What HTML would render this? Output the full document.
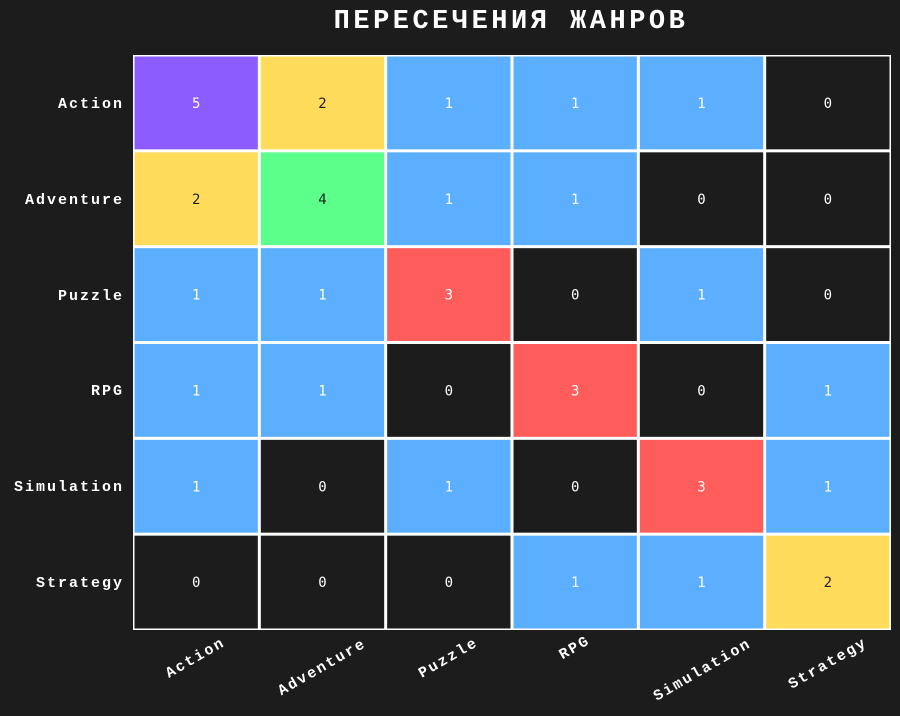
<!DOCTYPE html>
<html><head><meta charset="utf-8"><style>
html,body{margin:0;padding:0;background:#1c1c1c;}
svg{display:block;}
</style></head><body>
<svg width="900" height="716" viewBox="0 0 900 716" xmlns="http://www.w3.org/2000/svg">
<rect width="900" height="716" fill="#1c1c1c"/>
<text x="511" y="28" fill="#fff" font-family="Liberation Mono, DejaVu Sans Mono, monospace" font-weight="bold" font-size="27" text-anchor="middle" letter-spacing="3.5">ПЕРЕСЕЧЕНИЯ ЖАНРОВ</text>
<rect x="133" y="55" width="758" height="575" fill="#ffffff"/>
<g id="cells"></g>
<g font-family="Liberation Mono, DejaVu Sans Mono, monospace" font-weight="bold" font-size="15" fill="#fff" text-anchor="end" letter-spacing="2">
<text x="124" y="108">Action</text>
<text x="124" y="204">Adventure</text>
<text x="124" y="300">Puzzle</text>
<text x="124" y="395">RPG</text>
<text x="124" y="491">Simulation</text>
<text x="124" y="587">Strategy</text>
<text transform="translate(226,645) rotate(-30)">Action</text>
<text transform="translate(367,646) rotate(-30)">Adventure</text>
<text transform="translate(479,645) rotate(-30)">Puzzle</text>
<text transform="translate(591,643) rotate(-30)">RPG</text>
<text transform="translate(752,646) rotate(-30)">Simulation</text>
<text transform="translate(868,645) rotate(-30)">Strategy</text>
</g>
<script>
var d=[[5,2,1,1,1,0],[2,4,1,1,0,0],[1,1,3,0,1,0],[1,1,0,3,0,1],[1,0,1,0,3,1],[0,0,0,1,1,2]];
var g=document.getElementById('cells'),ns='http://www.w3.org/2000/svg';
var col={0:'#1c1c1c',1:'#5caeff',2:'#ffdb5c',3:'#ff5c5c',4:'#5cff8a',5:'#8c5cff'};
var cw=758/6,ch=575/6;
for(var r=0;r<6;r++)for(var c=0;c<6;c++){
var v=d[r][c];var x=133+c*cw,y=55+r*ch;
var re=document.createElementNS(ns,'rect');
re.setAttribute('x',x+1.5);re.setAttribute('y',y+1.5);re.setAttribute('width',cw-3);re.setAttribute('height',ch-3);re.setAttribute('fill',col[v]);g.appendChild(re);
var t=document.createElementNS(ns,'text');
t.setAttribute('x',x+cw/2);t.setAttribute('y',y+ch/2+5);t.setAttribute('text-anchor','middle');
t.setAttribute('font-family','DejaVu Sans Mono, Liberation Mono, monospace');t.setAttribute('font-size','14');
t.setAttribute('fill',(v==2||v==4)?'#222':'#fff');t.textContent=v;g.appendChild(t);}
</script>
</svg>
</body></html>
